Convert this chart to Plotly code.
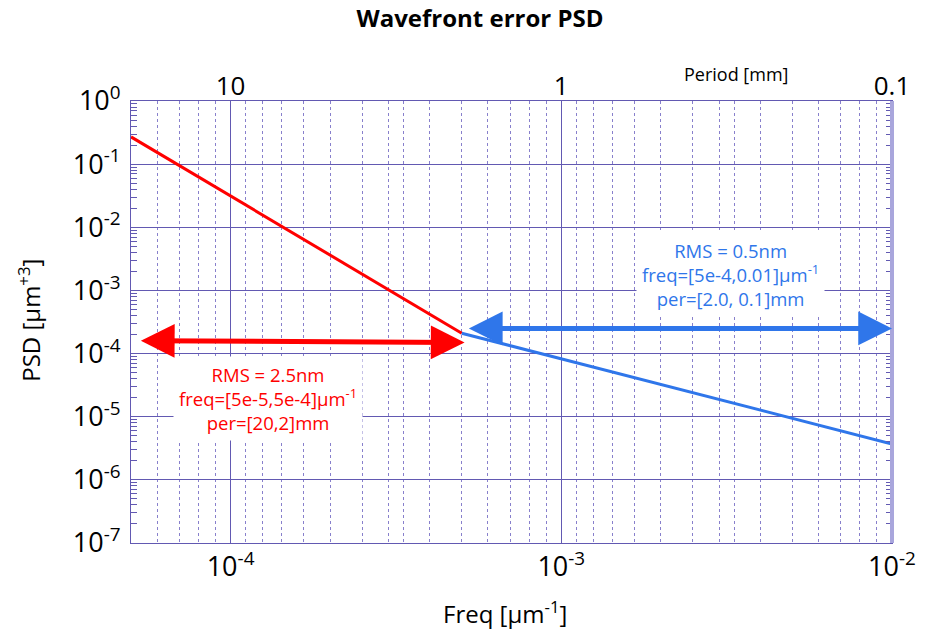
import numpy as np
import plotly.graph_objects as go

# ---- data ----
red_freq = [5e-5, 5e-4]          # µm^-1
red_psd = [0.27, 2.1e-4]          # µm^3
blue_freq = [5e-4, 1e-2]
blue_psd = [2.1e-4, 3.7e-6]

red_arrow_freq = [5.3e-5, 5.1e-4]
red_arrow_psd = [1.6e-4, 1.5e-4]
blue_arrow_freq = [5.2e-4, 1e-2]
blue_arrow_psd = [2.5e-4, 2.5e-4]

red_label = "RMS = 2.5nm<br>freq=[5e-5,5e-4]µm<sup>-1</sup><br>per=[20,2]mm"
blue_label = "RMS = 0.5nm<br>freq=[5e-4,0.01]µm<sup>-1</sup><br>per=[2.0, 0.1]mm"

x_major = [1e-4, 1e-3, 1e-2]
x_major_text = ["10<sup>-4</sup>", "10<sup>-3</sup>", "10<sup>-2</sup>"]
y_major = [1e0, 1e-1, 1e-2, 1e-3, 1e-4, 1e-5, 1e-6, 1e-7]
y_major_text = ["10<sup>0</sup>", "10<sup>-1</sup>", "10<sup>-2</sup>", "10<sup>-3</sup>",
                "10<sup>-4</sup>", "10<sup>-5</sup>", "10<sup>-6</sup>", "10<sup>-7</sup>"]
period_major_mm = [10, 1, 0.1]
period_major_text = ["10", "1", "0.1"]

# ---- styling ----
RED = "#ff0000"
BLUE = "#2f76ea"
GRID = "#6259b2"
FONT = "Open Sans"

xmin, xmax = 5e-5, 1e-2
ymin, ymax = 1e-7, 1e0

# minor positions (frequency minors and period minors)
freq_minor = [k * 10.0 ** d for d in (-5, -4, -3) for k in range(2, 10)
              if xmin <= k * 10.0 ** d <= xmax]
period_minor_mm = [k * 10.0 ** d for d in (-1, 0, 1) for k in range(2, 10)]
period_minor_freq = [1.0 / (p * 1000.0) for p in period_minor_mm
                     if xmin * 0.999 <= 1.0 / (p * 1000.0) <= xmax]
x_minor = sorted(set(freq_minor + period_minor_freq))
y_minor = [k * 10.0 ** d for d in range(-7, 0) for k in range(2, 10)]

fig = go.Figure()
fig.add_trace(go.Scatter(x=red_freq, y=red_psd, mode="lines",
                         line=dict(color=RED, width=3), showlegend=False, hoverinfo="skip"))
fig.add_trace(go.Scatter(x=blue_freq, y=blue_psd, mode="lines",
                         line=dict(color=BLUE, width=3), showlegend=False, hoverinfo="skip"))
# invisible trace to anchor top axis
fig.add_trace(go.Scatter(x=[xmin, xmax], y=[None, None], xaxis="x2", mode="lines",
                         showlegend=False, hoverinfo="skip"))

L = np.log10

def double_arrow(fx, py, color):
    return dict(x=L(fx[1]), y=L(py[1]), ax=L(fx[0]), ay=L(py[0]),
                xref="x", yref="y", axref="x", ayref="y", text="",
                showarrow=True, arrowhead=2, startarrowhead=2, arrowside="end+start",
                arrowwidth=5, arrowsize=1.35, startarrowsize=1.35, arrowcolor=color)

def label(x, y, text, size, color, **kw):
    d = dict(x=x, y=y, xref="paper", yref="paper", text=text, showarrow=False,
             xanchor="center", yanchor="middle",
             font=dict(family=FONT, size=size, color=color))
    d.update(kw)
    return d

annotations = [
    label((269 - 131) / 767, 1 - (398 - 101) / 442, red_label, 18.5, RED,
          bgcolor="white", borderpad=5, align="center"),
    label((735 - 131) / 767, 1 - (274 - 101) / 442, blue_label, 18.5, BLUE,
          bgcolor="white", borderpad=5, align="center"),
    double_arrow(red_arrow_freq, red_arrow_psd, RED),
    double_arrow(blue_arrow_freq, blue_arrow_psd, BLUE),
    label((741 - 131) / 767, 1 + (101 - 74) / 442, "Period [mm]", 18, "black"),
    label((508 - 131) / 767, -(612 - 543) / 442, "Freq [µm<sup>-1</sup>]", 24, "black"),
    label(-(131 - 28) / 767, 1 - (320 - 101) / 442, "PSD [µm<sup>+3</sup>]", 24, "black",
          textangle=-90),
]

fig.update_layout(
    width=928, height=636,
    margin=dict(l=131, r=30, t=101, b=93),
    paper_bgcolor="white", plot_bgcolor="white",
    title=dict(text="<b>Wavefront error PSD</b>", x=480 / 928, xanchor="center",
               y=1 - 19 / 636, yanchor="middle",
               font=dict(family=FONT, size=24, color="black")),
    annotations=annotations,
    shapes=[dict(type="line", xref="paper", yref="paper", x0=1, x1=1, y0=0, y1=1,
                 line=dict(color="#a9a6dc", width=4))],
    xaxis=dict(type="log", range=[L(xmin), L(xmax)], tickvals=x_major, ticktext=x_major_text,
               showgrid=True, gridcolor=GRID, gridwidth=1, zeroline=False,
               showline=True, linecolor=GRID, linewidth=1, mirror=True, ticks="",
               tickfont=dict(family=FONT, size=27, color="black"),
               minor=dict(tickvals=x_minor, showgrid=True, gridcolor="#8880cc", gridwidth=1,
                          griddash="dot", ticks="")),
    xaxis2=dict(type="log", range=[L(xmin), L(xmax)], overlaying="x", side="top",
                tickvals=[1.0 / (p * 1000.0) for p in period_major_mm],
                ticktext=period_major_text, showgrid=False, zeroline=False, ticks="",
                tickfont=dict(family=FONT, size=26, color="black")),
    yaxis=dict(type="log", range=[L(ymin), L(ymax)], tickvals=y_major, ticktext=y_major_text,
               showgrid=True, gridcolor=GRID, gridwidth=1, zeroline=False,
               showline=True, linecolor=GRID, linewidth=1, mirror="allticks",
               ticks="inside", ticklen=6, tickcolor=GRID, ticklabelstandoff=4,
               tickfont=dict(family=FONT, size=27, color="black"),
               minor=dict(tickvals=y_minor, ticks="inside", ticklen=4, tickcolor=GRID,
                          showgrid=False)),
)

fig.write_html("out.html")
